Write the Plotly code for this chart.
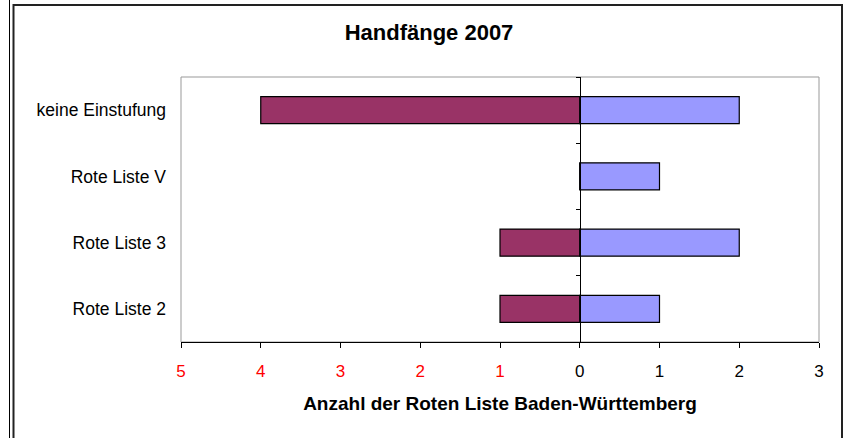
import plotly.graph_objects as go

categories = ["keine Einstufung", "Rote Liste V", "Rote Liste 3", "Rote Liste 2"]
left_values = [-4, 0, -1, -1]
right_values = [2, 1, 2, 1]
x_tickvals = [-5, -4, -3, -2, -1, 0, 1, 2, 3]
x_ticklabels = ["5", "4", "3", "2", "1", "0", "1", "2", "3"]
x_tickcolors = ["red", "red", "red", "red", "red", "black", "black", "black", "black"]

FONT = "Liberation Sans, Arial, sans-serif"
W, H = 844, 438
ML, MR, MT, MB = 181, 25, 77, 96
PW, PH = W - ML - MR, H - MT - MB

def px(x):
    return (x - ML) / PW

def py(y):
    return (H - MB - y) / PH

n = len(categories)
idx = list(range(n))
boundaries = [i - 0.5 for i in range(n + 1)]

fig = go.Figure()
fig.add_trace(go.Bar(y=categories, x=left_values, orientation="h", width=0.41,
                     marker=dict(color="#993366", line=dict(color="black", width=1.2)),
                     showlegend=False, hoverinfo="x+y"))
fig.add_trace(go.Bar(y=categories, x=right_values, orientation="h", width=0.41,
                     marker=dict(color="#9999FF", line=dict(color="black", width=1.2)),
                     showlegend=False, hoverinfo="x+y"))
# invisible trace carrying the zero-crossing axis (category indices)
fig.add_trace(go.Scatter(y=idx, x=[0] * n, yaxis="y2", mode="markers",
                         marker=dict(opacity=0), showlegend=False, hoverinfo="skip"))

ticktext = [f'<span style="color:{c}">{t}</span>' for t, c in zip(x_ticklabels, x_tickcolors)]

zero_pos = (0 - x_tickvals[0]) / (x_tickvals[-1] - x_tickvals[0])

fig.update_layout(
    width=W, height=H,
    margin=dict(l=ML, r=MR, t=MT, b=MB),
    paper_bgcolor="white", plot_bgcolor="white",
    barmode="relative",
    font=dict(family=FONT, size=17, color="black"),
    title=dict(text="<b>Handfänge 2007</b>", x=429 / W, xanchor="center",
               y=1 - 32 / H, yanchor="middle", font=dict(size=22, family=FONT)),
    xaxis=dict(range=[x_tickvals[0], x_tickvals[-1]], tickmode="array", tickvals=x_tickvals,
               ticktext=ticktext, showgrid=False, zeroline=False,
               showline=True, linecolor="black", linewidth=1,
               ticks="outside", ticklen=5, tickcolor="black", tickwidth=1,
               tickfont=dict(size=17), ticklabelstandoff=9,
               title=dict(text="<b>Anzahl der Roten Liste Baden-Württemberg</b>",
                          font=dict(size=19), standoff=16)),
    yaxis=dict(type="category", categoryorder="array", categoryarray=categories,
               range=[n - 0.5, -0.5], showgrid=False, zeroline=False, showline=False,
               ticks="", ticklabelstandoff=14, tickfont=dict(size=17.5)),
    yaxis2=dict(type="linear", range=[n - 0.5, -0.5], overlaying="y", anchor="free",
                position=zero_pos, side="left", showgrid=False, zeroline=False,
                showline=True, linecolor="black", linewidth=1, ticks="outside",
                tickmode="array", tickvals=boundaries, ticklen=4, tickcolor="black",
                showticklabels=False),
    shapes=[
        # plot area frame (gray)
        dict(type="rect", xref="paper", yref="paper", x0=0, x1=1, y0=0, y1=1,
             line=dict(color="#999999", width=1), layer="below"),
        # chart area border
        dict(type="rect", xref="paper", yref="paper", x0=px(13.5), x1=px(842),
             y0=py(445), y1=py(5), line=dict(color="#222222", width=2), layer="below"),
        # outer thin line on the left
        dict(type="line", xref="paper", yref="paper", x0=px(9.5), x1=px(9.5),
             y0=py(445), y1=py(-5), line=dict(color="black", width=1)),
    ],
)

fig.write_html("out.html", config={"displayModeBar": False},
               post_script="document.body.style.margin='0';document.body.style.overflow='hidden';")
